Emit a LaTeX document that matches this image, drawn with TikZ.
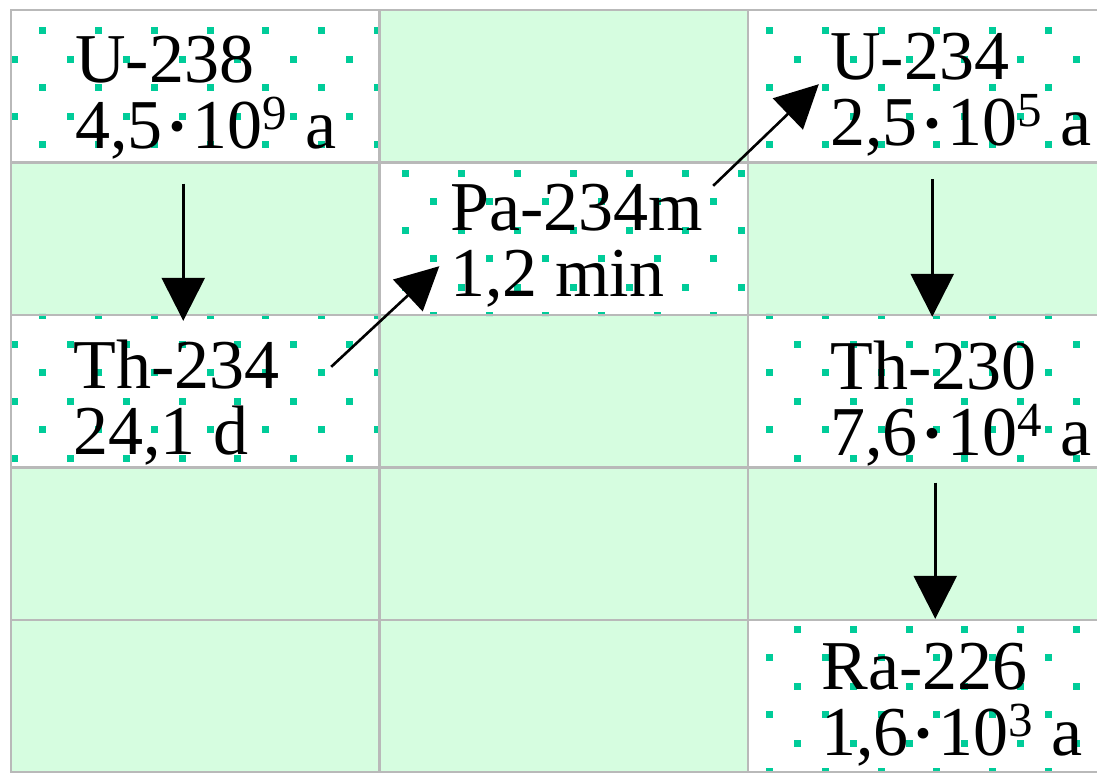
\documentclass[tikz,border=0pt]{standalone}
\usepackage{fontspec}
\setmainfont{Liberation Serif}
\usetikzlibrary{arrows.meta,positioning}
\definecolor{CellGreen}{RGB}{214,253,224}
\definecolor{DotTeal}{RGB}{0,204,153}
\definecolor{GridGray}{RGB}{185,185,185}
\tikzset{
  cell/.style={rectangle,draw=GridGray,fill=CellGreen,line width=1.2pt,
               minimum width=184.25pt,minimum height=76.25pt,inner sep=0pt},
  nucl/.style={cell,fill=white},
  border/.style={cell,fill=none},
  nuctext/.style={anchor=base west,align=left,inner sep=0pt,
                  font=\fontsize{35}{33}\selectfont},
  decay/.style={-{Triangle[length=21.5pt,width=21.5pt]},line width=1.3pt,black},
}
\newcommand{\halflife}[3]{#1\raisebox{-4pt}{\fontsize{45}{33}\selectfont·}10\textsuperscript{#2} #3}

\begin{document}
\begin{tikzpicture}[x=0.5pt,y=-0.5pt]
    \useasboundingbox (0,0) rectangle (1097,772);
    \clip (0,0) rectangle (1097,772);

    % Grid
    \foreach \c in {0,1,2}
      \foreach \r in {0,...,4}
        \node[cell] at ({195.25+368.5*\c},{86.25+152.5*\r}) {};

    % Nuclide cells
    \node[nucl] (u238cell)  at (195.25,86.25)  {};
    \node[nucl] (th234cell) at (195.25,391.25) {};
    \node[nucl] (pa234cell) at (563.75,238.75) {};
    \node[nucl] (u234cell)  at (932.25,86.25)  {};
    \node[nucl] (th230cell) at (932.25,391.25) {};
    \node[nucl] (ra226cell) at (932.25,696.25) {};

    % Dot pattern
    \begin{scope}
        \clip (u238cell.north west) rectangle (u238cell.south east)
              (th234cell.north west) rectangle (th234cell.south east)
              (pa234cell.north west) rectangle (pa234cell.south east)
              (u234cell.north west) rectangle (u234cell.south east)
              (th230cell.north west) rectangle (th230cell.south east)
              (ra226cell.north west) rectangle (ra226cell.south east);
        \foreach \j in {0,...,27}
          \foreach \i in {0,2,...,40}
            \fill[DotTeal] ({14.3+27.96*(\i+mod(\j,2))-3.5},{2+28.5*\j-3.5}) rectangle ++(7,7);
    \end{scope}

    \foreach \c in {0,1,2}
      \foreach \r in {0,...,4}
        \node[border] at ({195.25+368.5*\c},{86.25+152.5*\r}) {};

    % Nuclides
    \node[nuctext] (u238)  at (75,148)  {U-238\\\halflife{4,5}{9}{a}};
    \node[nuctext] (th234) at (73,454)  {Th-234\\24,1 d};
    \node[nuctext] (pa234) at (450,296) {Pa-234m\\1,2 min};
    \node[nuctext] (u234)  at (830,145) {U-234\\\halflife{2,5}{5}{a}};
    \node[nuctext] (th230) at (830,455) {Th-230\\\halflife{7,6}{4}{a}};
    \node[nuctext] (ra226) at (821,755) {Ra-226\\\halflife{1,6}{3}{a}};

    % Decays
    \draw[decay] ([shift={(-12,20)}]u238cell.south) -- ([shift={(-12,7)}]th234cell.north);
    \draw[decay] ([shift={(-49.5,53)}]th234cell.north east) -- ([shift={(61,-50)}]pa234cell.south west);
    \draw[decay] ([shift={(-36,24.5)}]pa234cell.north east) -- ([shift={(72,-79.5)}]u234cell.south west);
    \draw[decay] ([shift={(0,15.5)}]u234cell.south) -- ([shift={(0,3)}]th230cell.north);
    \draw[decay] ([shift={(3,14)}]th230cell.south) -- ([shift={(3,0)}]ra226cell.north);
\end{tikzpicture}
\end{document}
